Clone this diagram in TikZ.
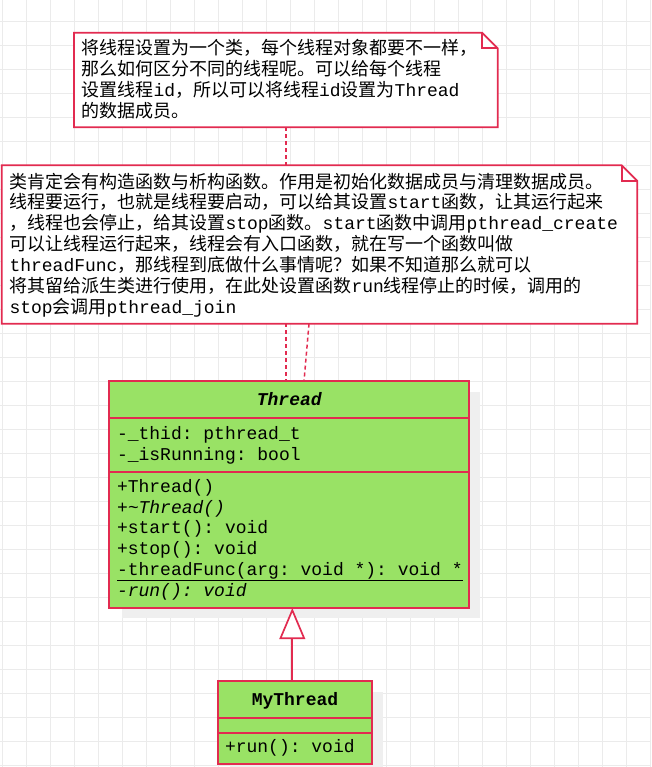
\documentclass[tikz,border=0pt]{standalone}
\usepackage{fontspec}
\setmainfont{Liberation Mono}
\newfontfamily\cjk{Noto Sans CJK SC}
\usetikzlibrary{calc,arrows.meta}
\definecolor{redc}{HTML}{E22B50}
\definecolor{greenc}{HTML}{99E265}
\definecolor{gridc}{HTML}{EBEBEB}
\definecolor{shadc}{HTML}{EFEFEF}
\newcommand\zh[1]{{\cjk #1}}
\newcommand\lns[1]{\vtop{\lineskiplimit=-100pt\lineskip=0pt\baselineskip=20.8pt #1}}
\newcommand\notebox[1]{%
  \filldraw[notel] (#1.south west) -- (#1.north west) -- ($(#1.north east)+(-15.6,0)$) -- ($(#1.north east)+(0,15.6)$) -- (#1.south east) -- cycle;
  \draw[notel, fill=none] ($(#1.north east)+(-15.6,0)$) -- ($(#1.north east)+(-15.6,15.6)$) -- ($(#1.north east)+(0,15.6)$);}
\pgfdeclarelayer{gridl}\pgfdeclarelayer{linkl}\pgfsetlayers{gridl,linkl,main}
\begin{document}
\frenchspacing
\begin{tikzpicture}[x=1pt,y=-1pt,
  txt/.style={anchor=base west, inner sep=0pt, outer sep=0pt, font=\fontsize{18}{20.8}\selectfont\frenchspacing, text=black},
  ctxt/.style={txt, anchor=base},
  frame/.style={inner sep=0pt, outer sep=0pt, draw=none},
  notel/.style={draw=redc, line width=1.7pt, fill=white, line join=miter},
  cls/.style={draw=redc, fill=greenc, line width=1.7pt, inner sep=0pt, outer sep=0pt},
  sepl/.style={draw=redc, line width=1.7pt},
  dsh/.style={draw=redc, line width=1.5pt, dash pattern=on 4pt off 3pt},
  inh/.style={draw=redc, line width=1.7pt, -{Triangle[length=31pt,width=25.7pt,fill=white]}}
]
\useasboundingbox (0,0) rectangle (651,767);
\begin{pgfonlayer}{gridl}
  \fill[white] (0,0) rectangle (651,767);
  \foreach \x in {2.7,26.7,...,651} \draw[gridc, line width=1pt] (\x,0) -- (\x,767);
  \foreach \y in {21.3,45.3,...,767} \draw[gridc, line width=1pt] (0,\y) -- (651,\y);
  \fill[shadc] (121.7,391.7) rectangle (480,618);
  \fill[shadc] (229.7,692.3) rectangle (382.7,767);
\end{pgfonlayer}

% note 1
\node[frame, minimum width=423.7pt, minimum height=94.6pt] (n1) at (285.85,80) {};
\notebox{n1}
\node[txt] (n1t) at (81.5,54.7) {\lns{%
\hbox{\zh{将线程设置为一个类，每个线程对象都要不一样，}}%
\hbox{\zh{那么如何区分不同的线程呢。可以给每个线程}}%
\hbox{\zh{设置线程}id\zh{，所以可以将线程}id\zh{设置为}Thread}%
\hbox{\zh{的数据成员。}}}};

% note 2
\node[frame, minimum width=635.6pt, minimum height=158.4pt] (n2) at (319.5,244.5) {};
\notebox{n2}
\node[txt] (n2t) at (9.5,188.2) {\lns{%
\hbox{\zh{类肯定会有构造函数与析构函数。作用是初始化数据成员与清理数据成员。}}%
\hbox{\zh{线程要运行，也就是线程要启动，可以给其设置}start\zh{函数，让其运行起来}}%
\hbox{\zh{，线程也会停止，给其设置}stop\zh{函数。}start\zh{函数中调用}pthread\_create}%
\hbox{\zh{可以让线程运行起来，线程会有入口函数，就在写一个函数叫做}}%
\hbox{threadFunc\zh{，那线程到底做什么事情呢？如果不知道那么就可以}}%
\hbox{\zh{将其留给派生类进行使用，在此处设置函数}run\zh{线程停止的时候，调用的}}%
\hbox{stop\zh{会调用}pthread\_join}}};

% Thread class
\node[cls, minimum width=360pt, minimum height=226.7pt] (thread) at (289.3,494.65) {};
\draw[sepl] ($(thread.north west)+(0,36.4)$) -- ($(thread.north east)+(0,36.4)$);
\draw[sepl] ($(thread.north west)+(0,90.4)$) -- ($(thread.north east)+(0,90.4)$);
\node[ctxt, font=\fontsize{18}{20.8}\selectfont\bfseries\itshape] (thname) at (289.3,405) {Thread};
\node[txt] (thattr) at (117,439.3) {\lns{%
\hbox{-\_thid: pthread\_t}%
\hbox{-\_isRunning: bool}}};
\node[txt] (thmeth) at (117,492.3) {\lns{%
\hbox{+Thread()}%
\hbox{\itshape +\textasciitilde Thread()}%
\hbox{+start(): void}%
\hbox{+stop(): void}}};
\node[txt] (tf) at (117,575.5) {-threadFunc(arg: void *): void *};
\draw[black, line width=1.3pt] ($(tf.base west)+(0,4.8)$) -- ($(tf.base east)+(0,4.8)$);
\node[txt, font=\fontsize{18}{20.8}\selectfont\itshape\frenchspacing] (trun) at (117,596.3) {-run(): void};

% MyThread class
\node[cls, minimum width=154.6pt, minimum height=83pt] (my) at (295,722.8) {};
\draw[sepl] ($(my.north west)+(0,36.4)$) -- ($(my.north east)+(0,36.4)$);
\draw[sepl] ($(my.north west)+(0,51.4)$) -- ($(my.north east)+(0,51.4)$);
\node[ctxt, font=\fontsize{18}{20.8}\selectfont\bfseries] (myname) at (295,705) {MyThread};
\node[txt] (myrun) at (225,752.7) {+run(): void};

% connectors
\begin{pgfonlayer}{linkl}
  \draw[dsh] (n1.south) -- (n1.south |- thread.north);
  \coordinate (d2a) at ($(n2.south)+(-10.5,0)$);
  \coordinate (d2b) at ($(thread.north)+(14.7,0)$);
  \draw[dsh] (d2a) -- (d2b);
\end{pgfonlayer}
\coordinate (ar) at ($(my.north)+(-2.7,0)$);
\draw[inh] (ar) -- (ar |- thread.south);
\end{tikzpicture}
\end{document}
